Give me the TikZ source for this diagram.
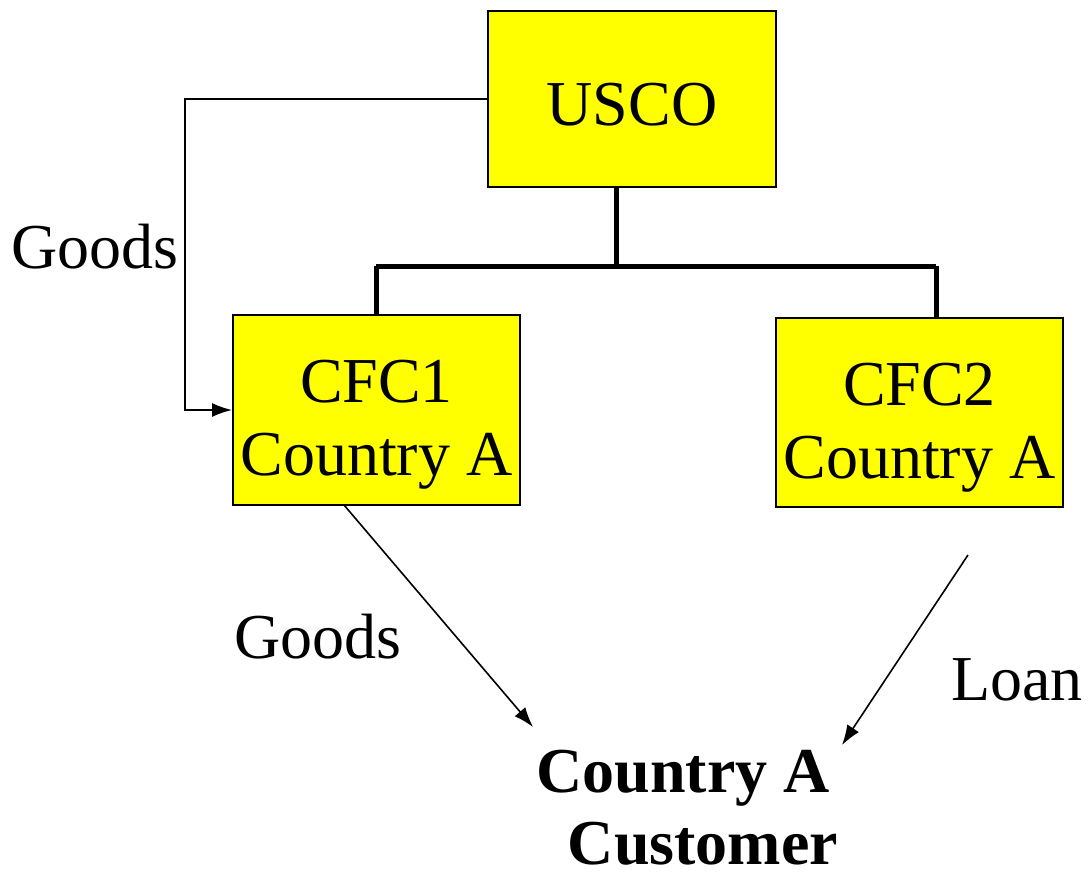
\documentclass[tikz,border=0pt]{standalone}
\usepackage{fontspec}
\setmainfont{Liberation Serif}
\usetikzlibrary{arrows.meta}
\definecolor{boxyellow}{RGB}{255,255,0}
\begin{document}
\begin{tikzpicture}[x=1pt,y=-1pt,
  box/.style={draw=black, line width=2pt, fill=boxyellow, inner sep=0pt, align=center,
    font=\fontsize{64}{73}\selectfont},
  lbl/.style={inner sep=0pt, font=\fontsize{64}{73}\selectfont},
  flow/.style={line width=1.6pt, -{Latex[length=20pt,width=14pt]}},
  tree/.style={line width=5pt}]
\useasboundingbox (0,0) rectangle (1088,876);
\node[box, minimum width=288pt, minimum height=176pt] (usco) at (632,99) {\rule{0pt}{54pt}USCO};
\node[box, minimum width=287pt, minimum height=190pt] (cfc1) at (376.5,410) {\rule{0pt}{72pt}CFC1\\Country A};
\node[box, minimum width=287pt, minimum height=189pt] (cfc2) at (919.5,412.5) {\rule{0pt}{72pt}CFC2\\Country A};
\node[lbl, font=\fontsize{64}{72}\selectfont\bfseries, align=center] (cust) at (703,808) {Country A\hspace*{40pt}\\Customer};
\node[lbl] (goods1) at (95,247) {Goods};
\node[lbl] (goods2) at (318,637) {Goods};
\node[lbl] (loan) at (1017,680) {Loan};
% tree
\coordinate (j) at (616,266);
\draw[tree] (usco.south -| j) -- (j);
\draw[tree] (376,266) -- (936,266);
\draw[tree] (376,266) -- (376,315);
\draw[tree] (936,266) -- (936,318);
% goods from USCO to CFC1
\coordinate (gk) at (185,99);
\draw[flow] (usco.west) -- (gk) |- (cfc1.west);
% goods CFC1 to customer
\coordinate (g2s) at (344,505);
\coordinate (g2e) at (533,727);
\draw[flow] (g2s) -- (g2e);
% loan
\coordinate (ls) at (968,555);
\coordinate (le) at (842,745);
\draw[flow] (ls) -- (le);
\end{tikzpicture}
\end{document}
